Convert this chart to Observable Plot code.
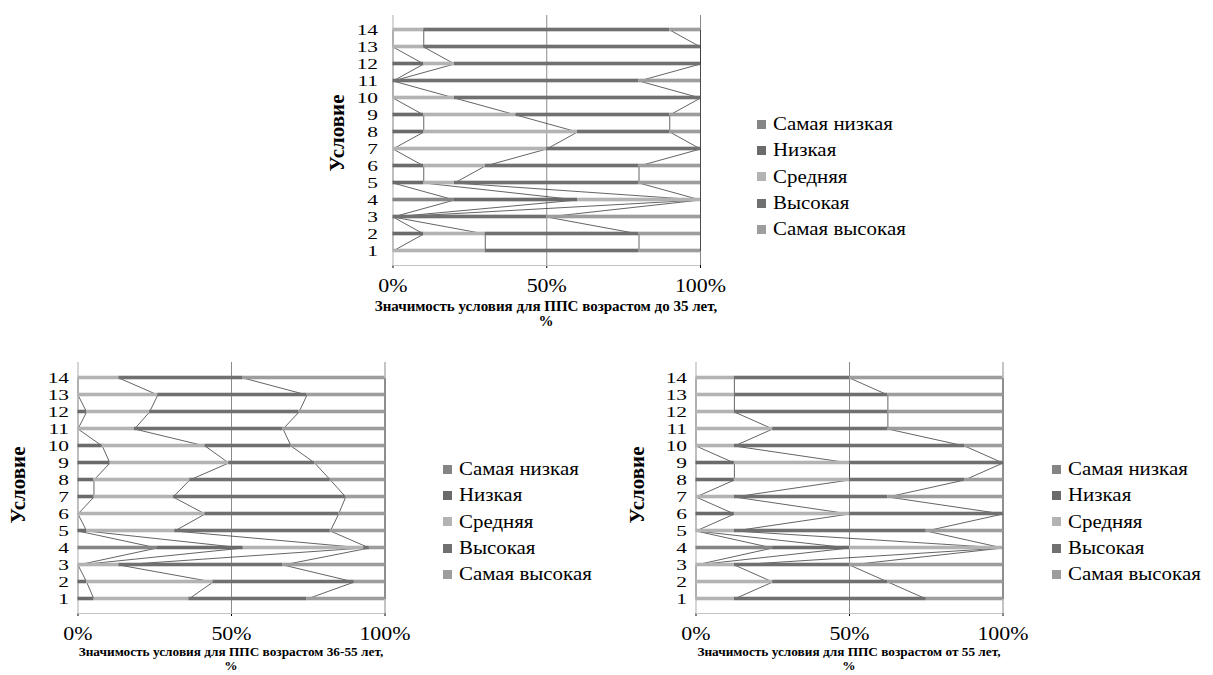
<!DOCTYPE html>
<html>
<head>
<meta charset="utf-8">
<script src="https://cdn.jsdelivr.net/npm/d3@7"></script>
<script src="https://cdn.jsdelivr.net/npm/@observablehq/plot@0.6"></script>
<style>
  body { margin: 0; background: #fff; }
  #wrap { position: relative; width: 1213px; height: 675px; overflow: hidden; background: #fff;
          font-family: "Liberation Serif", "Times New Roman", serif; color: #000; }
  .panel { position: absolute; }
  .ytitle { position: absolute; width: 140px; height: 24px; line-height: 24px; text-align: center;
            font-weight: bold; font-size: 21px; transform: rotate(-90deg); }
  .xtitle { position: absolute; width: 440px; text-align: center; font-weight: bold; line-height: 15px; }
  .legend { position: absolute; font-size: 19px; }
  .legend .item { display: flex; align-items: center; height: 26.3px; white-space: nowrap; }
  .legend .sw { width: 9px; height: 9px; margin-right: 7px; flex: none; }
  .legend .tx { display: inline-block; transform: scaleX(1.1); transform-origin: left center; }
</style>
</head>
<body>
<div id="wrap"></div>
<script>
// ---- data ----
const conditions = [1, 2, 3, 4, 5, 6, 7, 8, 9, 10, 11, 12, 13, 14];
const levels = ["Самая низкая", "Низкая", "Средняя", "Высокая", "Самая высокая"];
const levelColors = ["#858585", "#6b6b6b", "#b3b3b3", "#707070", "#9d9d9d"];

// Panel 1: ППС возрастом до 35 лет (values for conditions 1..14, %)
const p1SamayaNizkaya = [0, 0, 0, 20, 0, 0, 0, 0, 0, 0, 0, 0, 0, 0];
const p1Nizkaya       = [0, 10, 0, 40, 10, 10, 0, 10, 10, 0, 0, 10, 0, 0];
const p1Srednyaya     = [30, 20, 0, 40, 10, 20, 50, 50, 30, 20, 0, 10, 10, 10];
const p1Vysokaya      = [50, 50, 50, 0, 60, 50, 50, 30, 50, 80, 80, 80, 90, 80];
const p1SamayaVysokaya= [20, 20, 50, 0, 20, 20, 0, 10, 10, 0, 20, 0, 0, 10];

// Panel 2: ППС возрастом 36-55 лет
const p2SamayaNizkaya = [0, 0, 0, 25.8, 0, 0, 0, 0, 0, 0, 0, 0, 0, 0];
const p2Nizkaya       = [5.2, 2.8, 0, 28.0, 2.8, 0, 5.2, 5.2, 10.4, 7.9, 0, 2.8, 0, 0];
const p2Srednyaya     = [30.9, 41.2, 13.3, 39.3, 28.7, 41.4, 25.8, 31.2, 38.7, 33.5, 18.4, 20.5, 26.0, 13.3];
const p2Vysokaya      = [38.5, 46.0, 53.5, 1.8, 50.7, 43.5, 56.2, 45.8, 28.0, 28.0, 48.4, 48.7, 48.6, 40.5];
const p2SamayaVysokaya= [25.4, 10.0, 33.2, 5.1, 17.8, 15.1, 12.8, 17.8, 22.9, 30.6, 33.2, 28.0, 25.4, 46.2];

// Panel 3: ППС возрастом от 55 лет
const p3SamayaNizkaya = [0, 0, 0, 25, 0, 0, 0, 0, 0, 0, 0, 0, 0, 0];
const p3Nizkaya       = [0, 0, 0, 25, 0, 12.5, 0, 12.5, 12.5, 0, 0, 0, 0, 0];
const p3Srednyaya     = [12.5, 25, 12.5, 50, 12.5, 37.5, 12.5, 37.5, 37.5, 12.5, 25, 12.5, 12.5, 12.5];
const p3Vysokaya      = [62.5, 37.5, 37.5, 0, 62.5, 50, 50, 37.5, 50, 75, 37.5, 50, 50, 37.5];
const p3SamayaVysokaya= [25, 37.5, 50, 0, 25, 0, 37.5, 12.5, 0, 12.5, 37.5, 37.5, 37.5, 50];

const xTicks = [0, 50, 100];
const yTitle = "Условие";
const xTitles = [
  "Значимость условия для ППС возрастом до 35 лет,",
  "Значимость условия для ППС возрастом 36-55 лет,",
  "Значимость условия для ППС возрастом от 55 лет,"
];

// ---- drawing ----
const wrap = document.getElementById("wrap");
const X_STRETCH = 1.22;  // x tick labels
const Y_STRETCH = 1.38;  // y tick labels
const Y_FONT = "15.5px";

function makePanel(series, box) {
  const bars = [];
  const links = [];
  conditions.forEach((c, i) => {
    let cum = 0;
    levels.forEach((lev, k) => {
      const v = series[k][i];
      bars.push({cond: String(c), level: lev, x1: cum, x2: cum + v});
      cum += v;
    });
  });
  levels.forEach((lev, k) => {
    for (let i = 0; i < conditions.length - 1; i++) {
      const a = d3.sum(series.slice(0, k + 1), s => s[i]);
      const b = d3.sum(series.slice(0, k + 1), s => s[i + 1]);
      links.push({x1: a, y1: String(conditions[i]), x2: b, y2: String(conditions[i + 1])});
    }
  });
  const step = (box.height - box.marginTop - box.marginBottom) / conditions.length;
  const inset = (step - 4.5) / 2;
  const bottomLine = (index, scales, values, dims) => {
    const g = d3.create("svg:g");
    const y = dims.height - dims.marginBottom + 0.5;
    g.append("line").attr("x1", dims.marginLeft).attr("x2", dims.width - dims.marginRight)
      .attr("y1", y).attr("y2", y).attr("stroke", "#c4c4c4");
    return g.node();
  };
  const svg = Plot.plot({
    width: box.width, height: box.height,
    marginLeft: box.marginLeft, marginRight: box.marginRight,
    marginTop: box.marginTop, marginBottom: box.marginBottom,
    style: {fontFamily: "'Liberation Serif', 'Times New Roman', serif", fontSize: "18px", background: "transparent", color: "#000"},
    x: {domain: [0, 100], ticks: xTicks, tickFormat: d => d + "%", label: null, tickSize: 3, tickPadding: 11},
    y: {domain: conditions.map(String).reverse(), padding: 0, label: null, tickSize: 0, tickPadding: box.yPad},
    color: {domain: levels, range: levelColors},
    marks: [
      Plot.ruleX([50, 100], {stroke: "#8a8a8a", strokeWidth: 1}),
      Plot.link(links, {x1: "x1", y1: "y1", x2: "x2", y2: "y2", stroke: "#3c3c3c", strokeWidth: 0.8}),
      Plot.ruleX([0], {stroke: "#c4c4c4", strokeWidth: 1.4}),
      bottomLine,
      Plot.barX(bars, {y: "cond", x1: "x1", x2: "x2", fill: "level", insetTop: inset, insetBottom: inset})
    ]
  });
  // stretch tick labels horizontally to match the reference's wide serif lettering
  svg.querySelectorAll("text").forEach(t => {
    const isY = !!t.closest('[aria-label^="y-axis"]');
    const s = isY ? Y_STRETCH : X_STRETCH;
    if (isY) t.style.fontSize = Y_FONT;
    const x = t.getAttribute("x");
    if (x !== null && !isNaN(+x)) t.setAttribute("x", +x / s);
    const tr = t.getAttribute("transform") || "";
    t.setAttribute("transform", (tr + " scale(" + s + ",1)").trim());
  });
  svg.classList.add("panel");
  svg.style.left = box.left + "px";
  svg.style.top = box.top + "px";
  svg.style.overflow = "visible";
  wrap.appendChild(svg);
}

function addText(cls, text, styles) {
  const d = document.createElement("div");
  d.className = cls;
  d.innerHTML = text;
  Object.assign(d.style, styles);
  wrap.appendChild(d);
}

function addLegend(left, top) {
  const lg = document.createElement("div");
  lg.className = "legend";
  lg.style.left = left + "px";
  lg.style.top = top + "px";
  levels.forEach((lev, k) => {
    const it = document.createElement("div");
    it.className = "item";
    const sw = document.createElement("span");
    sw.className = "sw";
    sw.style.background = levelColors[k];
    const tx = document.createElement("span");
    tx.className = "tx";
    tx.textContent = lev;
    it.appendChild(sw); it.appendChild(tx);
    lg.appendChild(it);
  });
  wrap.appendChild(lg);
}

// Panel 1
makePanel([p1SamayaNizkaya, p1Nizkaya, p1Srednyaya, p1Vysokaya, p1SamayaVysokaya],
  {left: 300, top: 0, width: 420, height: 300, marginLeft: 92.5, marginRight: 20, marginTop: 15, marginBottom: 35, yPad: 15});
// Panel 2
makePanel([p2SamayaNizkaya, p2Nizkaya, p2Srednyaya, p2Vysokaya, p2SamayaVysokaya],
  {left: 0, top: 350, width: 410, height: 300, marginLeft: 77.5, marginRight: 25.5, marginTop: 12, marginBottom: 37, yPad: 9});
// Panel 3
makePanel([p3SamayaNizkaya, p3Nizkaya, p3Srednyaya, p3Vysokaya, p3SamayaVysokaya],
  {left: 620, top: 350, width: 410, height: 300, marginLeft: 75.5, marginRight: 27.5, marginTop: 12, marginBottom: 37, yPad: 9});

// Axis titles
addText("ytitle", yTitle, {left: (337 - 70) + "px", top: (133 - 12) + "px"});
addText("ytitle", yTitle, {left: (18 - 70) + "px", top: (485 - 12) + "px"});
addText("ytitle", yTitle, {left: (637 - 70) + "px", top: (485 - 12) + "px"});
addText("xtitle", xTitles[0] + "<br>%", {left: (546 - 220) + "px", top: "299px", fontSize: "15px"});
addText("xtitle", xTitles[1] + "<br>%", {left: (231 - 220) + "px", top: "645px", fontSize: "13.3px", lineHeight: "13.5px"});
addText("xtitle", xTitles[2] + "<br>%", {left: (849 - 220) + "px", top: "645px", fontSize: "13.3px", lineHeight: "13.5px"});

// Legends
addLegend(757, 111);
addLegend(443, 456);
addLegend(1052, 456);
</script>
</body>
</html>
